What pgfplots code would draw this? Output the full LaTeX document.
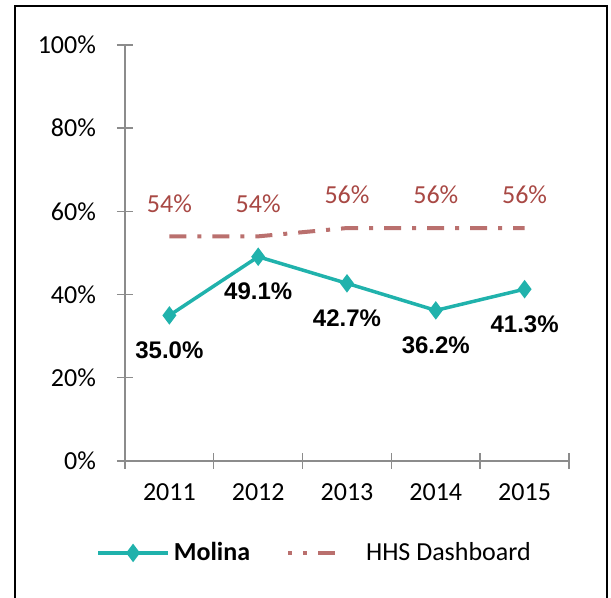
\documentclass[border=0pt]{standalone}
\usepackage{pgfplots}
\pgfplotsset{compat=1.18}
\usepackage{fontspec}
\setmainfont{Carlito}
\newfontfamily\lab{Liberation Sans}
\definecolor{teal1}{RGB}{32,178,172}
\definecolor{hhsline}{RGB}{186,112,110}
\definecolor{hhstext}{RGB}{168,72,68}
\definecolor{axgray}{RGB}{140,140,140}
\begin{document}
\begin{tikzpicture}[font=\fontsize{13}{15}\selectfont]
\useasboundingbox (0,0) rectangle (305.5pt,299pt);
\draw[black,line width=1pt] (7.5pt,-2pt) -- (7.5pt,296pt) -- (303.5pt,296pt) -- (303.5pt,-2pt);
\begin{axis}[
  at={(62.5pt,68.5pt)}, anchor=south west,
  scale only axis, width=222pt, height=208pt,
  xmin=-0.5, xmax=4.5, ymin=0, ymax=100,
  axis x line=bottom, axis y line=left,
  axis line style={axgray, line width=0.7pt, -},
  xtick={-0.5,0.5,1.5,2.5,3.5,4.5}, xticklabels={},
  extra x ticks={0,1,2,3,4},
  extra x tick labels={2011,2012,2013,2014,2015},
  extra x tick style={major tick length=0pt, tick label style={yshift=-8pt}},
  ytick={0,20,40,60,80,100},
  yticklabels={0\%,20\%,40\%,60\%,80\%,100\%},
  yticklabel style={xshift=-7pt},
  tick align=center, major tick length=8pt,
  tick style={axgray, line width=0.7pt},
  clip=false,
  legend style={at={(axis description cs:-0.079,-0.221)}, anchor=west, draw=none, fill=none,
    legend columns=2, /tikz/every even column/.append style={column sep=16pt},
    font=\fontsize{13}{15}\selectfont},
  legend cell align=left,
]
\addplot[teal1, line width=1.75pt, mark=diamond*, mark size=3.2pt,
  point meta=explicit symbolic,
  nodes near coords,
  every node near coord/.append style={anchor=center, yshift=-17.5pt, black, font=\lab\bfseries\fontsize{12}{14}\selectfont},
  legend image code/.code={\draw[mark repeat=2,mark phase=2] plot coordinates {(0pt,0pt) (17.5pt,0pt) (35pt,0pt)};}]
  coordinates {(0,35.0) [35.0\%] (1,49.1) [49.1\%] (2,42.7) [42.7\%] (3,36.2) [36.2\%] (4,41.3) [41.3\%]};
\addlegendentry{\textbf{Molina}}
\addplot[hhsline, line width=2pt, dash pattern=on 8.5pt off 5.5pt on 2pt off 5.5pt,
  point meta=explicit symbolic,
  nodes near coords,
  every node near coord/.append style={anchor=center, yshift=16.5pt, hhstext, font=\fontsize{13}{15}\selectfont},
  legend image code/.code={\draw[dash pattern=on 2pt off 5.5pt on 2pt off 5.5pt on 8.5pt off 20pt] (0pt,0pt) -- (36pt,0pt);}]
  coordinates {(0,54) [54\%] (1,54) [54\%] (2,56) [56\%] (3,56) [56\%] (4,56) [56\%]};
\addlegendentry{HHS Dashboard}
\end{axis}
\end{tikzpicture}
\end{document}
